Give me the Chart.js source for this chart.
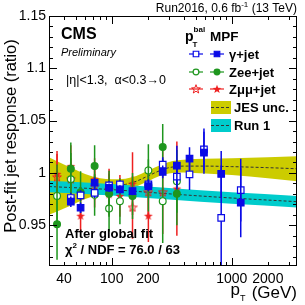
<!DOCTYPE html>
<html>
<head>
<meta charset="utf-8">
<script src="https://cdn.jsdelivr.net/npm/chart.js@4"></script>
<style>
  html, body { margin: 0; padding: 0; background: #fff; }
  #wrap { width: 305px; height: 305px; }
</style>
</head>
<body>
<div id="wrap"><canvas id="jes" width="305" height="305"></canvas></div>
<script>
/* Post-fit jet response, Run2016 global fit */
(function () {
  'use strict';

  // axis ticks
  var xLabels = [40, 100, 200, 1000, 2000];
  var xMajor = [100, 1000];
  var xMinor = [40, 50, 60, 70, 80, 90, 200, 300, 400, 500, 600, 700, 800, 900, 2000, 3000];
  var yLabels = [0.95, 1, 1.05, 1.1, 1.15];
  var yMinor = [0.92, 0.93, 0.94, 0.96, 0.97, 0.98, 0.99, 1.01, 1.02, 1.03, 1.04,
                1.06, 1.07, 1.08, 1.09, 1.11, 1.12, 1.13, 1.14];

  // gamma+jet
  var gMpfPt = [45.6, 55, 72, 95, 117, 149, 202, 266, 349, 445, 587, 817, 1189];
  var gMpf = [0.9725, 0.9667, 0.9906, 0.9858, 0.9842, 0.9826, 0.9874, 1.001, 1.007, 1.0136, 1.0193, 0.999, 0.9715];
  var gMpfErr = [0.005, 0.005, 0.005, 0.004, 0.004, 0.004, 0.005, 0.006, 0.019, 0.011, 0.02, 0.022, 0.033];
  var gBalPt = [45.6, 55, 72, 95, 117, 202, 266, 349, 445, 587, 817, 1189];
  var gBal = [0.976, 0.9785, 0.981, 0.988, 0.989, 0.989, 1.008, 0.9964, 0.9986, 1.0225, 0.957, 0.9835];
  var gBalErr = [0.005, 0.005, 0.005, 0.004, 0.004, 0.005, 0.007, 0.012, 0.015, 0.02, 0.05, 0.03];

  // Zee+jet
  var zMpfPt = [35, 45.6, 55, 72, 95, 149, 202, 266, 349];
  var zMpf = [0.951, 1.004, 0.9816, 1.0065, 0.98, 0.978, 0.988, 1.0247, 0.98];
  var zMpfErr = [0.034, 0.025, 0.02, 0.02, 0.022, 0.022, 0.025, 0.022, 0.03];
  var zBalPt = [35, 45.6, 72, 95, 117, 202, 266, 349];
  var zBal = [0.978, 0.994, 0.979, 0.966, 0.973, 1.0024, 0.973, 0.992];
  var zBalErr = [0.03, 0.025, 0.02, 0.022, 0.022, 0.025, 0.04, 0.03];

  // Zmumu+jet
  var mMpfPt = [35, 45.6, 55, 72, 95, 117, 149, 202, 349];
  var mMpf = [0.999, 1.0065, 0.959, 0.994, 0.9795, 0.978, 0.9897, 0.959, 0.985];
  var mMpfErr = [0.022, 0.02, 0.016, 0.02, 0.02, 0.02, 0.03, 0.025, 0.045];
  var mBalPt = [35, 45.6, 72, 95, 149, 202, 266];
  var mBal = [0.996, 0.994, 0.987, 0.984, 0.967, 0.9816, 0.9816];
  var mBalErr = [0.022, 0.02, 0.02, 0.02, 0.03, 0.025, 0.04];

  // JES uncertainty band
  var jesPt = [30, 40, 50, 60, 80, 100, 130, 160, 200, 250, 300, 400, 600, 1000, 2000, 3500];
  var jesMid = [0.987, 0.987, 0.987, 0.987, 0.9872, 0.9875, 0.989, 0.992, 0.997, 1.002, 1.005, 1.0065, 1.0065, 1.006, 1.005, 1.004];
  var jesUp = [1.015, 1.008, 1.003, 0.999, 0.995, 0.994, 0.9945, 0.997, 1.002, 1.007, 1.0105, 1.0125, 1.0135, 1.014, 1.015, 1.016];
  var jesDown = [0.96, 0.966, 0.971, 0.975, 0.979, 0.981, 0.9835, 0.987, 0.992, 0.997, 0.9995, 1.0005, 0.9995, 0.998, 0.995, 0.992];

  // Run 1 band
  var runPt = [30, 100, 300, 1000, 3500];
  var runMid = [0.987, 0.984, 0.98, 0.976, 0.9725];
  var runUp = [0.9925, 0.9895, 0.9855, 0.9815, 0.978];
  var runDown = [0.9815, 0.9785, 0.9745, 0.9705, 0.967];

  var BLUE = '#0a0ae6', GREEN = '#1e961e', RED = '#ee2020';
  var YELLOW = '#cccc00', CYAN = '#00cccc';
  var FONT = '"Liberation Sans", Arial, Helvetica, sans-serif';

  function xy(xs, ys) {
    return xs.map(function (x, i) { return { x: x, y: ys[i] }; });
  }

  function star(color, filled) {
    var c = document.createElement('canvas');
    c.width = c.height = 10;
    var g = c.getContext('2d');
    g.beginPath();
    for (var i = 0; i < 10; i++) {
      var a = -Math.PI / 2 + i * Math.PI / 5;
      var r = i % 2 ? 1.9 : 4.6;
      g.lineTo(5 + r * Math.cos(a), 5.3 + r * Math.sin(a));
    }
    g.closePath();
    if (filled) { g.fillStyle = color; g.fill(); }
    else { g.strokeStyle = color; g.lineWidth = 1; g.stroke(); }
    return c;
  }
  var starFull = star(RED, true), starOpen = star(RED, false);

  function points(label, xs, ys, errs, color, style, open, radius) {
    return {
      label: label,
      data: xy(xs, ys),
      errors: errs,
      showLine: false,
      order: 0,
      pointStyle: style,
      pointRadius: radius,
      pointBorderWidth: 1.2,
      borderColor: color,
      backgroundColor: open ? '#ffffff' : color,
      pointBackgroundColor: open ? '#ffffff' : color,
      pointBorderColor: color
    };
  }

  function line(xs, ys, color, order, extra) {
    var ds = {
      data: xy(xs, ys),
      borderColor: color,
      borderWidth: 1,
      pointRadius: 0,
      cubicInterpolationMode: 'monotone',
      order: order,
      fill: false
    };
    for (var k in extra) ds[k] = extra[k];
    return ds;
  }

  var datasets = [
    points('g mpf', gMpfPt, gMpf, gMpfErr, BLUE, 'rect', false, 4.6),
    points('g bal', gBalPt, gBal, gBalErr, BLUE, 'rect', true, 4.6),
    points('zee mpf', zMpfPt, zMpf, zMpfErr, GREEN, 'circle', false, 3.4),
    points('zee bal', zBalPt, zBal, zBalErr, GREEN, 'circle', true, 3.4),
    points('zmm mpf', mMpfPt, mMpf, mMpfErr, RED, starFull, false, 5),
    points('zmm bal', mBalPt, mBal, mBalErr, RED, starOpen, true, 5),
    line(runPt, runMid, '#333333', 4, { borderDash: [3, 2] }),
    line(runPt, runUp, 'rgba(0,0,0,0)', 5, { borderWidth: 0 }),
    line(runPt, runDown, 'rgba(0,0,0,0)', 5, { borderWidth: 0, fill: { target: 7 }, backgroundColor: CYAN }),
    line(jesPt, jesMid, '#333333', 8, { borderDash: [3, 2] }),
    line(jesPt, jesUp, 'rgba(0,0,0,0)', 10, { borderWidth: 0 }),
    line(jesPt, jesDown, 'rgba(0,0,0,0)', 10, { borderWidth: 0, fill: { target: 10 }, backgroundColor: YELLOW })
  ];

  var errorBars = {
    id: 'errorBars',
    beforeDatasetDraw: function (chart, args) {
      var ds = chart.data.datasets[args.index];
      if (!ds.errors) return;
      var ctx = chart.ctx, ys = chart.scales.y, a = chart.chartArea;
      ctx.save();
      ctx.beginPath();
      ctx.rect(a.left, a.top, a.right - a.left, a.bottom - a.top);
      ctx.clip();
      ctx.strokeStyle = ds.borderColor;
      ctx.lineWidth = 1.5;
      ctx.beginPath();
      args.meta.data.forEach(function (el, i) {
        var v = ds.data[i].y, e = ds.errors[i];
        ctx.moveTo(el.x, ys.getPixelForValue(v + e));
        ctx.lineTo(el.x, ys.getPixelForValue(v - e));
      });
      ctx.stroke();
      ctx.restore();
    }
  };

  function txt(ctx, s, x, y, font, align) {
    ctx.font = font;
    ctx.textAlign = align || 'left';
    ctx.fillText(s, x, y);
    return ctx.measureText(s).width;
  }

  function marker(ctx, ds, x, y) {
    ctx.save();
    ctx.strokeStyle = ds.borderColor;
    ctx.lineWidth = 1.2;
    ctx.beginPath();
    ctx.moveTo(x - 7, y); ctx.lineTo(x + 7, y);
    ctx.stroke();
    ctx.fillStyle = ds.pointBackgroundColor;
    Chart.helpers.drawPoint(ctx, { pointStyle: ds.pointStyle, radius: ds.pointRadius * 0.85, borderWidth: 1.2, rotation: 0 }, x, y);
    ctx.restore();
  }

  var frame = {
    id: 'frame',
    afterDraw: function (chart) {
      var ctx = chart.ctx, a = chart.chartArea, xs = chart.scales.x, ys = chart.scales.y;
      ctx.save();
      ctx.strokeStyle = '#000';
      ctx.lineWidth = 1;
      ctx.strokeRect(a.left + 0.5, a.top + 0.5, a.right - a.left - 1, a.bottom - a.top - 1);
      ctx.beginPath();
      function yt(v, len) {
        var p = Math.round(ys.getPixelForValue(v)) + 0.5;
        ctx.moveTo(a.left, p); ctx.lineTo(a.left + len, p);
        ctx.moveTo(a.right, p); ctx.lineTo(a.right - len, p);
      }
      function xt(v, len) {
        var p = Math.round(xs.getPixelForValue(v)) + 0.5;
        ctx.moveTo(p, a.bottom); ctx.lineTo(p, a.bottom - len);
        ctx.moveTo(p, a.top); ctx.lineTo(p, a.top + len);
      }
      yLabels.forEach(function (v) { yt(v, 8); });
      yMinor.forEach(function (v) { yt(v, 4); });
      xMajor.forEach(function (v) { xt(v, 8); });
      xMinor.forEach(function (v) { xt(v, 4); });
      ctx.stroke();

      ctx.fillStyle = '#000';
      ctx.textBaseline = 'alphabetic';

      // top right
      ctx.font = '12px ' + FONT;
      var w1 = ctx.measureText('Run2016, 0.6 fb').width;
      ctx.font = '8px ' + FONT;
      var w2 = ctx.measureText('-1').width;
      ctx.font = '12px ' + FONT;
      var w3 = ctx.measureText(' (13 TeV)').width;
      var x0 = 297 - w1 - w2 - w3;
      txt(ctx, 'Run2016, 0.6 fb', x0, 12, '12px ' + FONT);
      txt(ctx, '-1', x0 + w1, 7, '8px ' + FONT);
      txt(ctx, ' (13 TeV)', x0 + w1 + w2, 12, '12px ' + FONT);

      // y title
      ctx.save();
      ctx.translate(16, 136);
      ctx.rotate(-Math.PI / 2);
      txt(ctx, 'Post-fit jet response (ratio)', 0, 0, '16.5px ' + FONT, 'center');
      ctx.restore();

      // x title
      ctx.font = '17px ' + FONT;
      var wg = ctx.measureText(' (GeV)').width;
      txt(ctx, ' (GeV)', 297, 298, '17px ' + FONT, 'right');
      ctx.font = '17px ' + FONT;
      var wp = ctx.measureText('p').width;
      var px = 297 - wg - wp - 7;
      txt(ctx, 'p', px, 295, '17px ' + FONT);
      txt(ctx, 'T', px + wp, 301, '9px ' + FONT);

      // labels inside the frame
      txt(ctx, 'CMS', 61, 39, 'bold 16px ' + FONT);
      txt(ctx, 'Preliminary', 61, 56, 'italic 11px ' + FONT);
      txt(ctx, '|\u03b7|<1.3,  \u03b1<0.3\u21920', 66, 84, '12.5px ' + FONT);
      txt(ctx, 'After global fit', 65, 238, 'bold 13px ' + FONT);
      var wc = txt(ctx, '\u03c7', 65, 254, 'bold 13px ' + FONT);
      var w2c = txt(ctx, '2', 65 + wc, 248, 'bold 8px ' + FONT);
      txt(ctx, ' / NDF = 76.0 / 63', 65 + wc + w2c, 254, 'bold 13px ' + FONT);

      // legend
      var wpb = txt(ctx, 'p', 185, 41, 'bold 14px ' + FONT);
      txt(ctx, 'bal', 185 + wpb, 32, 'bold 8px ' + FONT);
      txt(ctx, 'T', 185 + wpb - 1, 47, 'bold 8px ' + FONT);
      txt(ctx, 'MPF', 210, 41, 'bold 13.5px ' + FONT);
      var ds = chart.data.datasets;
      var rows = [['\u03b3+jet', 54, 0], ['Zee+jet', 72, 2], ['Z\u03bc\u03bc+jet', 89, 4]];
      rows.forEach(function (r) {
        marker(ctx, ds[r[2] + 1], 196, r[1]);
        marker(ctx, ds[r[2]], 217, r[1]);
        ctx.fillStyle = '#000';
        txt(ctx, r[0], 229, r[1] + 5, 'bold 13px ' + FONT);
      });
      var boxes = [['JES unc.', 107, YELLOW], ['Run 1', 125, CYAN]];
      boxes.forEach(function (b) {
        ctx.fillStyle = b[2];
        ctx.fillRect(211, b[1] - 6, 20, 13);
        ctx.strokeStyle = '#333';
        ctx.setLineDash([3, 2]);
        ctx.beginPath();
        ctx.moveTo(211, b[1] + 0.5); ctx.lineTo(231, b[1] + 0.5);
        ctx.stroke();
        ctx.setLineDash([]);
        ctx.fillStyle = '#000';
        txt(ctx, b[0], 234, b[1] + 5, 'bold 13px ' + FONT);
      });
      ctx.restore();
    }
  };

  new Chart(document.getElementById('jes'), {
    type: 'line',
    data: { datasets: datasets },
    options: {
      responsive: false,
      animation: false,
      events: [],
      layout: { padding: { top: 16, right: 8, left: 0, bottom: 0 } },
      plugins: { legend: { display: false }, tooltip: { enabled: false } },
      scales: {
        x: {
          type: 'logarithmic',
          min: 30,
          max: 3500,
          grid: { display: false, drawTicks: false },
          border: { display: false },
          afterBuildTicks: function (s) { s.ticks = xLabels.map(function (v) { return { value: v }; }); },
          afterFit: function (s) { s.height = 39; },
          ticks: {
            autoSkip: false, maxRotation: 0, padding: 5, color: '#000',
            font: { family: FONT, size: 14 },
            callback: function (v) { return String(v); }
          }
        },
        y: {
          min: 0.911,
          max: 1.15,
          grid: { display: false, drawTicks: false },
          border: { display: false },
          afterBuildTicks: function (s) { s.ticks = yLabels.map(function (v) { return { value: v }; }); },
          afterFit: function (s) { s.width = 49; },
          ticks: {
            autoSkip: false, padding: 3, color: '#000',
            font: { family: FONT, size: 14 },
            callback: function (v) { return String(v); }
          }
        }
      }
    },
    plugins: [errorBars, frame]
  });
})();
</script>
</body>
</html>
